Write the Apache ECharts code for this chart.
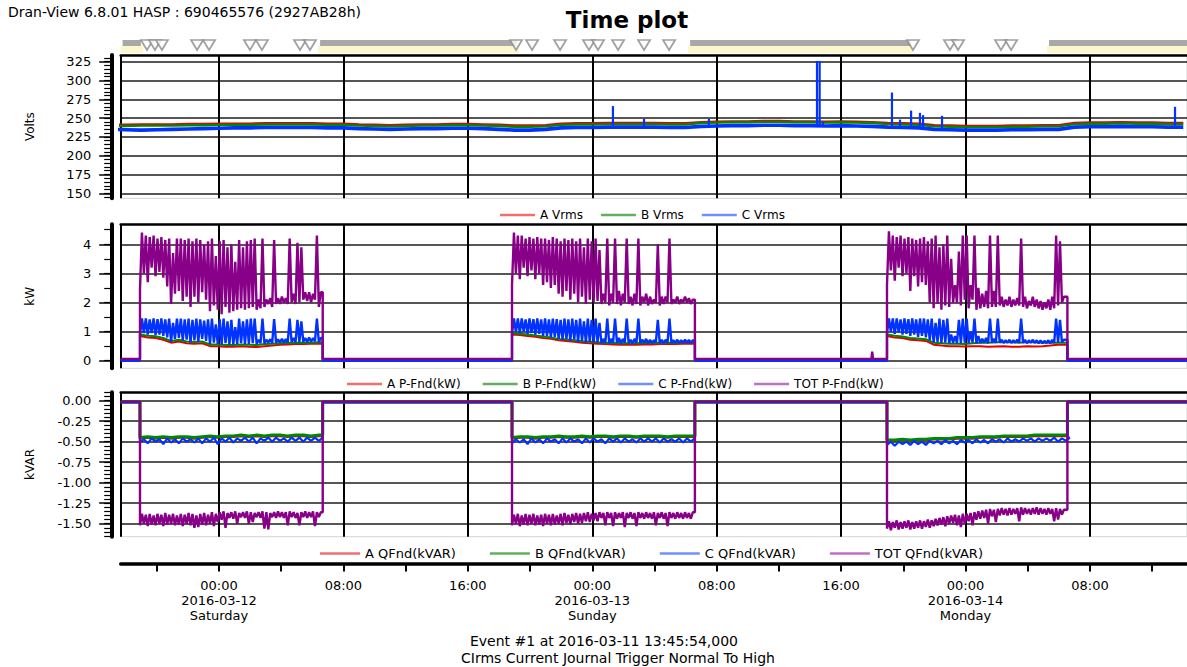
<!DOCTYPE html>
<html><head><meta charset="utf-8">
<script src="https://cdn.jsdelivr.net/npm/echarts@6/dist/echarts.min.js"></script>
<style>html,body{margin:0;padding:0;background:#fff}#c{width:1187px;height:667px}</style>
</head><body><div id="c"></div>
<script>
// ---- time: hours relative to 2016-03-12 00:00 ----
const xMin = -6.32, xMax = 62.24;
const gridHours = [0, 8, 16, 24, 32, 40, 48, 56];
const minorHours = [-4, 0, 4, 8, 12, 16, 20, 24, 28, 32, 36, 40, 44, 48, 52, 56, 60];
const timeLabels = ['00:00\n2016-03-12\nSaturday', '08:00', '16:00', '00:00\n2016-03-13\nSunday', '08:00', '16:00', '00:00\n2016-03-14\nMonday', '08:00'];

// ---- y ticks ----
const vTicks = [150, 175, 200, 225, 250, 275, 300, 325];
const pTicks = [0, 1, 2, 3, 4];
const qTicks = [0, -0.25, -0.5, -0.75, -1, -1.25, -1.5];

// ---- voltage (hourly samples from h=-7) ----
const vStart = -7;
const vA = [241,241,241.5,241.5,241.5,242,242, 242.5,242.5,242.5,243,243,243,243,242.5,242.5, 241.5,241,240.5,241, 241.5,241.5,242,242,241.5,241, 240,240,240.5, 242.5,243,243,243.5,243.5,243.5,243.5,243,243, 244.5,245,245.5,245.5,246,246,245.5,245.5,245,245.5,245,244.5, 243.5,243,242.5, 240.5,240,239.5,239.5,239.5,240,240,240.5,240.5, 243.5,244,244,244.5,244,244,243.5,243.5];
const vB = [239.5,239.5,240,240,240,240.5,240.5, 241,241,241,241.5,241.5,241.5,241.5,241,241, 240,239.5,239,239.5, 240,240,240.5,240.5,240,239.5, 238.5,238.5,239, 241,241.5,241.5,242,242,242,242,241.5,241.5, 243.5,244,244.5,244.5,245,245,244.5,244.5,244,244.5,244,243.5, 242,241.5,241, 239,238.5,238,238,238,238.5,238.5,239,239, 242,242.5,242.5,243,242.5,242.5,242,242];
const vC = [235,234.5,234,234.5,235,235.5,236, 236.5,237,237,237.5,237.5,237.5,237.5,237,237, 236,235.5,235,235.5, 236,236,236.5,236.5,236,235, 234,234,235, 237,237.5,237.5,238,238,238,238,237.5,237.5, 239,239.5,240,240,240.5,240.5,240,240,239.5,240,239.5,239, 238,237.5,237, 235,234.5,234,234,234,234.5,234.5,235,235, 238,238.5,238.5,239,238.5,238.5,238,238];
const vSpikeH    = [25.33, 27.33, 31.5, 38.45, 38.62, 38.84, 43.27, 43.79, 44.5, 45.07, 45.27, 46.49, 61.47];
const vSpikeBase = [238, 238, 238, 240, 240, 240, 238, 238, 238, 237, 237, 236, 238];
const vSpikePeak = [266, 249, 249, 326, 326, 245, 284, 248, 260, 257, 254, 253, 265];

// ---- load periods (P and Q), samples every 0.25 h (0.5 h for A/B/C Q and A/B P) ----
const onStart = [-5.08, 18.84, 42.95];
const onEnd   = [6.67, 30.6, 54.55];
const pOff = [0.03, 0.04, 0.0, 0.06];       // A, B, C, TOT
const qOff = [-0.015, -0.015, -0.02, -0.012];
const totOffSpike = [[41.95, 0.06], [42.0, 0.31], [42.05, 0.06]];

const totPHi1 = [4.40,4.30,4.25,4.30,4.20,4.25,4.15,4.20,3.70,4.20,4.20,4.15,4.20,4.10,4.20,4.15,4.00,4.10,4.20,3.60,4.10,4.15,3.90,4.00,3.40,4.15,3.90,4.10,4.15,4.20,2.10,4.20,2.10,2.15,4.15,2.15,2.20,2.15,4.20,2.30,4.05,3.90,2.35,2.35,2.30,4.30,2.35];
const totPLo1 = [2.45,3.00,2.70,3.20,2.90,3.05,2.85,2.55,1.95,2.30,2.40,2.05,2.20,1.85,2.20,2.00,2.35,2.10,1.70,1.90,1.75,1.60,1.85,1.65,1.70,1.75,1.80,1.75,1.80,1.85,1.75,1.80,1.85,1.95,1.85,1.95,1.95,2.00,1.95,2.00,1.95,2.00,2.10,2.05,2.00,2.10,1.85];
const totPHi2 = [4.40,4.30,4.30,4.20,4.25,4.20,4.25,4.20,4.20,4.15,4.25,4.20,4.10,4.20,4.15,4.20,4.10,4.20,3.90,4.20,4.10,4.20,3.80,2.30,4.20,2.30,4.20,2.40,2.30,4.20,2.20,2.30,4.20,2.20,2.30,2.20,2.10,4.00,2.20,2.20,4.20,2.10,2.20,2.10,2.20,2.15,2.10];
const totPLo2 = [2.60,3.00,2.80,3.20,2.90,3.10,2.80,3.00,2.60,2.70,2.50,2.60,2.30,2.20,2.40,2.10,2.30,2.00,2.20,1.95,2.10,2.00,2.05,1.95,2.00,1.90,2.00,1.95,1.90,2.00,1.95,1.90,1.95,1.90,2.00,1.90,1.95,2.00,1.90,1.95,2.00,1.95,2.00,1.95,2.00,2.00,1.95];
const totPHi3 = [4.45,4.30,4.25,4.30,4.20,4.25,4.20,4.15,4.20,4.25,4.10,4.20,4.30,3.90,4.00,4.30,3.50,2.60,3.75,4.30,4.30,2.60,4.30,2.50,2.30,2.40,4.30,2.40,4.30,2.20,2.10,2.20,2.10,2.15,4.20,2.20,2.05,2.20,2.10,2.05,2.00,2.10,2.20,4.30,4.10,2.20];
const totPLo3 = [2.60,3.10,2.75,3.20,2.90,3.00,2.40,2.90,2.55,2.70,2.60,2.00,1.80,1.95,1.75,1.90,1.85,2.00,2.00,1.90,2.10,1.80,2.10,1.75,1.80,1.85,1.80,1.85,1.85,1.90,1.85,1.90,1.85,1.90,1.90,1.85,1.80,1.90,1.85,1.80,1.75,1.80,1.75,1.80,1.90,2.00];

const cPHi1 = [1.45,1.45,1.42,1.45,1.43,1.45,1.42,1.45,1.30,1.45,1.45,1.42,1.45,1.40,1.45,1.42,1.38,1.42,1.45,1.25,1.42,1.45,1.35,1.40,1.15,1.45,1.35,1.42,1.45,1.45,0.72,1.45,0.72,0.74,1.43,0.73,0.75,0.74,1.45,0.78,1.40,1.35,0.78,0.80,0.78,1.45,0.78];
const cPLo1 = [0.90,0.95,0.90,0.95,0.88,0.90,0.85,0.80,0.65,0.75,0.78,0.70,0.72,0.62,0.70,0.65,0.75,0.68,0.58,0.62,0.58,0.55,0.60,0.55,0.56,0.57,0.60,0.58,0.58,0.60,0.58,0.60,0.60,0.62,0.60,0.62,0.63,0.62,0.63,0.64,0.63,0.64,0.65,0.64,0.65,0.66,0.64];
const cPHi2 = [1.45,1.45,1.45,1.42,1.45,1.43,1.45,1.42,1.45,1.42,1.45,1.43,1.40,1.45,1.42,1.45,1.40,1.45,1.35,1.45,1.40,1.45,1.30,0.75,1.45,0.75,1.45,0.78,0.75,1.45,0.72,0.75,1.45,0.72,0.75,0.72,0.70,1.40,0.72,0.72,1.45,0.70,0.72,0.70,0.72,0.71,0.70];
const cPLo2 = [0.95,0.98,0.95,1.00,0.92,0.95,0.90,0.92,0.85,0.85,0.80,0.82,0.75,0.72,0.75,0.68,0.72,0.65,0.68,0.62,0.65,0.62,0.63,0.60,0.62,0.60,0.62,0.61,0.60,0.62,0.61,0.60,0.61,0.60,0.62,0.60,0.61,0.62,0.60,0.61,0.62,0.61,0.62,0.61,0.62,0.62,0.61];
const cPHi3 = [1.45,1.45,1.45,1.42,1.45,1.43,1.45,1.42,1.45,1.45,1.42,1.45,1.30,1.45,1.40,1.45,0.90,0.85,1.40,1.45,1.45,1.00,1.45,0.85,0.75,0.78,1.45,0.75,1.45,0.72,0.70,0.72,0.70,0.72,1.45,0.72,0.70,0.72,0.70,0.70,0.68,0.70,0.72,1.45,1.40,0.72];
const cPLo3 = [0.95,1.00,0.92,0.98,0.90,0.92,0.85,0.90,0.82,0.85,0.80,0.70,0.62,0.65,0.60,0.62,0.60,0.62,0.60,0.60,0.62,0.60,0.62,0.60,0.61,0.62,0.60,0.62,0.61,0.62,0.61,0.62,0.61,0.62,0.62,0.61,0.60,0.62,0.61,0.60,0.60,0.61,0.60,0.61,0.62,0.63];

const aP1 = [0.85,0.80,0.78,0.72,0.62,0.66,0.60,0.58,0.60,0.50,0.50,0.48,0.48,0.50,0.48,0.47,0.50,0.52,0.55,0.56,0.57,0.57,0.58,0.58];
const bP1 = [0.90,0.86,0.84,0.78,0.68,0.72,0.66,0.64,0.66,0.56,0.56,0.54,0.54,0.56,0.55,0.54,0.57,0.58,0.60,0.61,0.62,0.62,0.62,0.63];
const aP2 = [0.90,0.88,0.85,0.82,0.78,0.75,0.70,0.68,0.65,0.62,0.60,0.58,0.57,0.56,0.55,0.55,0.55,0.56,0.56,0.57,0.57,0.57,0.58,0.58];
const bP2 = [0.95,0.93,0.90,0.87,0.83,0.80,0.75,0.73,0.70,0.67,0.65,0.63,0.62,0.61,0.60,0.60,0.60,0.61,0.61,0.62,0.62,0.62,0.63,0.63];
const aP3 = [0.85,0.80,0.78,0.72,0.70,0.68,0.55,0.52,0.50,0.50,0.49,0.50,0.50,0.48,0.49,0.50,0.48,0.48,0.50,0.49,0.50,0.52,0.55,0.55];
const bP3 = [0.90,0.86,0.83,0.78,0.76,0.74,0.62,0.60,0.58,0.58,0.57,0.60,0.62,0.62,0.63,0.64,0.63,0.62,0.64,0.63,0.62,0.62,0.62,0.62];

const totQHi1 = [-1.38,-1.39,-1.38,-1.40,-1.38,-1.39,-1.37,-1.39,-1.38,-1.40,-1.38,-1.39,-1.37,-1.38,-1.40,-1.38,-1.37,-1.39,-1.36,-1.38,-1.36,-1.35,-1.37,-1.36,-1.35,-1.37,-1.36,-1.35,-1.36,-1.37,-1.36,-1.35,-1.36,-1.37,-1.36,-1.35,-1.36,-1.36,-1.35,-1.36,-1.37,-1.36,-1.35,-1.36,-1.35,-1.36,-1.36];
const totQLo1 = [-1.52,-1.50,-1.53,-1.51,-1.52,-1.50,-1.53,-1.51,-1.50,-1.52,-1.51,-1.53,-1.50,-1.52,-1.55,-1.54,-1.51,-1.52,-1.50,-1.53,-1.48,-1.45,-1.55,-1.43,-1.44,-1.50,-1.42,-1.43,-1.50,-1.48,-1.42,-1.43,-1.56,-1.57,-1.42,-1.43,-1.42,-1.43,-1.52,-1.42,-1.43,-1.52,-1.42,-1.43,-1.42,-1.53,-1.42];
const totQHi2 = [-1.39,-1.38,-1.40,-1.38,-1.39,-1.38,-1.40,-1.39,-1.38,-1.39,-1.38,-1.40,-1.38,-1.37,-1.39,-1.38,-1.37,-1.38,-1.37,-1.36,-1.38,-1.37,-1.36,-1.37,-1.36,-1.37,-1.36,-1.37,-1.36,-1.37,-1.36,-1.37,-1.36,-1.37,-1.36,-1.37,-1.36,-1.37,-1.36,-1.37,-1.36,-1.37,-1.36,-1.37,-1.36,-1.37,-1.36];
const totQLo2 = [-1.52,-1.50,-1.53,-1.51,-1.52,-1.50,-1.52,-1.51,-1.53,-1.50,-1.52,-1.51,-1.50,-1.52,-1.49,-1.51,-1.48,-1.50,-1.49,-1.47,-1.48,-1.46,-1.47,-1.43,-1.52,-1.43,-1.53,-1.44,-1.43,-1.54,-1.43,-1.44,-1.53,-1.43,-1.44,-1.43,-1.44,-1.52,-1.43,-1.44,-1.53,-1.43,-1.44,-1.43,-1.44,-1.43,-1.44];
const totQHi3 = [-1.47,-1.48,-1.46,-1.48,-1.47,-1.46,-1.48,-1.47,-1.46,-1.47,-1.45,-1.46,-1.44,-1.43,-1.42,-1.41,-1.40,-1.39,-1.40,-1.38,-1.38,-1.37,-1.36,-1.35,-1.34,-1.33,-1.32,-1.33,-1.32,-1.31,-1.32,-1.31,-1.32,-1.31,-1.30,-1.31,-1.32,-1.31,-1.30,-1.31,-1.32,-1.31,-1.32,-1.31,-1.32,-1.33];
const totQLo3 = [-1.56,-1.58,-1.55,-1.57,-1.56,-1.55,-1.57,-1.56,-1.55,-1.56,-1.54,-1.55,-1.53,-1.52,-1.51,-1.53,-1.50,-1.49,-1.52,-1.54,-1.50,-1.47,-1.52,-1.45,-1.44,-1.43,-1.50,-1.41,-1.48,-1.40,-1.39,-1.40,-1.39,-1.38,-1.47,-1.39,-1.38,-1.39,-1.38,-1.39,-1.38,-1.39,-1.38,-1.47,-1.45,-1.39];

const qA1 = [-0.46,-0.45,-0.46,-0.45,-0.46,-0.45,-0.45,-0.46,-0.45,-0.44,-0.45,-0.44,-0.44,-0.43,-0.44,-0.43,-0.44,-0.43,-0.43,-0.44,-0.43,-0.43,-0.44,-0.43];
const qB1 = [-0.45,-0.44,-0.45,-0.44,-0.45,-0.44,-0.44,-0.45,-0.44,-0.43,-0.44,-0.43,-0.43,-0.42,-0.43,-0.42,-0.43,-0.42,-0.42,-0.43,-0.42,-0.42,-0.43,-0.42];
const qCHi1 = [-0.47,-0.46,-0.47,-0.46,-0.47,-0.46,-0.47,-0.46,-0.46,-0.45,-0.46,-0.45,-0.46,-0.45,-0.45,-0.46,-0.45,-0.45,-0.46,-0.45,-0.45,-0.45,-0.45,-0.45];
const qCLo1 = [-0.51,-0.52,-0.50,-0.53,-0.51,-0.52,-0.50,-0.51,-0.52,-0.50,-0.53,-0.50,-0.51,-0.49,-0.50,-0.52,-0.49,-0.50,-0.49,-0.50,-0.49,-0.50,-0.49,-0.49];
const qA2 = [-0.46,-0.45,-0.45,-0.46,-0.45,-0.45,-0.44,-0.45,-0.45,-0.44,-0.45,-0.44,-0.44,-0.45,-0.44,-0.44,-0.45,-0.44,-0.44,-0.44,-0.45,-0.44,-0.44,-0.44];
const qB2 = [-0.45,-0.44,-0.44,-0.45,-0.44,-0.44,-0.43,-0.44,-0.44,-0.43,-0.44,-0.43,-0.43,-0.44,-0.43,-0.43,-0.44,-0.43,-0.43,-0.43,-0.44,-0.43,-0.43,-0.43];
const qCHi2 = [-0.47,-0.47,-0.46,-0.47,-0.46,-0.47,-0.46,-0.46,-0.47,-0.46,-0.46,-0.47,-0.46,-0.46,-0.46,-0.47,-0.46,-0.46,-0.46,-0.46,-0.47,-0.46,-0.46,-0.46];
const qCLo2 = [-0.52,-0.51,-0.53,-0.51,-0.52,-0.50,-0.52,-0.51,-0.50,-0.52,-0.51,-0.50,-0.52,-0.50,-0.51,-0.50,-0.51,-0.50,-0.50,-0.51,-0.50,-0.50,-0.51,-0.50];
const qA3 = [-0.49,-0.49,-0.48,-0.49,-0.48,-0.48,-0.47,-0.47,-0.47,-0.46,-0.46,-0.46,-0.45,-0.45,-0.45,-0.44,-0.44,-0.44,-0.44,-0.43,-0.43,-0.43,-0.43,-0.43];
const qB3 = [-0.48,-0.48,-0.47,-0.48,-0.47,-0.47,-0.46,-0.46,-0.46,-0.45,-0.45,-0.45,-0.44,-0.44,-0.44,-0.43,-0.43,-0.43,-0.43,-0.42,-0.42,-0.42,-0.42,-0.42];
const qCHi3 = [-0.50,-0.50,-0.50,-0.49,-0.50,-0.49,-0.49,-0.48,-0.49,-0.48,-0.48,-0.47,-0.48,-0.47,-0.47,-0.46,-0.47,-0.46,-0.46,-0.46,-0.46,-0.45,-0.46,-0.45];
const qCLo3 = [-0.54,-0.55,-0.53,-0.54,-0.53,-0.54,-0.52,-0.53,-0.52,-0.53,-0.51,-0.52,-0.51,-0.52,-0.50,-0.51,-0.50,-0.50,-0.49,-0.50,-0.49,-0.49,-0.50,-0.49];

// ---- event markers strip ----
const evTri = [-4.63,-4.12,-3.67,-1.41,-0.64,1.99,2.76,5.21,5.85,19.1,20.13,21.93,23.79,24.37,25.66,27.33,28.94,44.62,47.0,47.52,50.28,50.93];
const evBandStart = [-6.2, 6.5, 30.29, 53.37];
const evBandEnd = [-5.02, 19.16, 44.5, 62.24];

// ---- helpers ----
const STEP = 0.25, STEP2 = 0.5;
function rng(a, b, s) { const o = []; for (let v = a; v <= b + 1e-9; v += s) o.push(Math.round(v * 1000) / 1000); return o; }
function zig(start, lo, hi, step) {
  const o = [];
  for (let i = 0; i < lo.length; i++) { o.push([start + i * step, lo[i]]); o.push([start + i * step + step / 2, hi[i]]); }
  return o;
}
function plain(start, vals, step) { return vals.map((v, i) => [start + i * step, v]); }
function assemble(off, segs, extra) {
  let o = [[xMin, off]];
  segs.forEach((s, k) => {
    o.push([onStart[k], off]); o.push(...s);
    o.push([onEnd[k], s[s.length - 1][1]]); o.push([onEnd[k], off]);
  });
  o.push([xMax, off]);
  if (extra) { o = o.concat(extra); o.sort((p, q) => p[0] - q[0]); }
  return o;
}

const FONT = "'DejaVu Sans', 'Liberation Sans', sans-serif";
const COL = { A: '#e00000', B: '#008800', C: '#0033ff', T: '#880088' };
const LCOL = { A: '#f07070', B: '#60b060', C: '#7090ff', T: '#c070c0' };

const LEFT = 120.7;
const grids = [
  { left: LEFT, right: 0, top: 55, height: 143.3 },
  { left: LEFT, right: 0, top: 224.3, height: 144 },
  { left: LEFT, right: 0, top: 392.3, height: 144.4 },
].map(g => Object.assign(g, { show: true, borderColor: '#d4d4d4', borderWidth: 1, backgroundColor: 'transparent', outerBoundsMode: 'none' }));
grids.push({ left: LEFT, right: 0, top: 561, height: 2.5, outerBoundsMode: 'none' });
grids.push({ left: LEFT, right: 0, top: 40, height: 10, outerBoundsMode: 'none' });

function panelX(gi) {
  return { type: 'value', gridIndex: gi, min: xMin, max: xMax, position: 'top',
    axisLine: { show: true, onZero: false, lineStyle: { color: '#000', width: 2.5 } },
    axisTick: { show: false, customValues: [xMin].concat(gridHours) },
    axisLabel: { show: false },
    splitLine: { show: true, lineStyle: { color: '#000', width: 2 } } };
}
function mainY(gi, min, max, ticks, fmt, name) {
  return { type: 'value', gridIndex: gi, min, max, position: 'left', offset: 8.5,
    name, nameLocation: 'middle', nameGap: 76, nameRotate: 90,
    nameTextStyle: { color: '#000', fontSize: 12, fontFamily: FONT },
    axisLine: { show: true, onZero: false, lineStyle: { color: '#000', width: 4, cap: 'round' } },
    axisTick: { show: true, length: 13, customValues: ticks, lineStyle: { color: '#000', width: 1.5 } },
    axisLabel: { show: true, customValues: ticks, formatter: fmt, margin: 21, color: '#000', fontSize: 13, fontFamily: FONT },
    splitLine: { show: true, lineStyle: { color: '#1e1e1e', width: 1.7 } } };
}
function minorY(gi, min, max, ticks) {
  return { type: 'value', gridIndex: gi, min, max, position: 'left', offset: 8.5,
    axisLine: { show: false, onZero: false },
    axisTick: { show: true, length: 8, customValues: ticks, lineStyle: { color: '#000', width: 1.2 } },
    axisLabel: { show: false }, splitLine: { show: false } };
}

const vMin = 143.36, vMax = 333.9, pMin = -0.261, pMax = 4.687, qMin = -1.6585, qMax = 0.102;

const xAxis = [panelX(0), panelX(1), panelX(2),
  { type: 'value', gridIndex: 3, min: xMin, max: xMax, position: 'bottom',
    axisLine: { show: true, onZero: false, lineStyle: { color: '#000', width: 3.5 } },
    axisTick: { show: true, length: 8, customValues: minorHours, lineStyle: { color: '#000', width: 2 } },
    axisLabel: { show: true, customValues: gridHours, margin: 15, color: '#000', fontSize: 13, lineHeight: 14.7, fontFamily: FONT,
      formatter: v => { const k = gridHours.indexOf(Math.round(v)); return k >= 0 ? timeLabels[k] : ''; } },
    splitLine: { show: false } },
  { type: 'value', gridIndex: 4, min: xMin, max: xMax, show: false }
];
const yAxis = [
  mainY(0, vMin, vMax, vTicks, v => String(Math.round(v)), 'Volts'), minorY(0, vMin, vMax, rng(145, 330, 5)),
  mainY(1, pMin, pMax, pTicks, v => String(Math.round(v)), 'kW'), minorY(1, pMin, pMax, rng(0, 4.5, 0.5)),
  mainY(2, qMin, qMax, qTicks, v => v.toFixed(2), 'kVAR'), minorY(2, qMin, qMax, rng(-1.65, 0.1, 0.05)),
  { type: 'value', gridIndex: 3, show: false, min: 0, max: 1 },
  { type: 'value', gridIndex: 4, show: false, min: 0, max: 1 }
];

function line(name, xi, yi, data, color, width) {
  return { name, type: 'line', xAxisIndex: xi, yAxisIndex: yi, data, symbol: 'none', silent: true,
    lineStyle: { color, width }, itemStyle: { color }, animation: false, z: 3 };
}

const series = [
  // Voltage
  line('A Vrms', 0, 0, plain(vStart, vA, 1), COL.A, 2.6),
  line('B Vrms', 0, 0, plain(vStart, vB, 1), COL.B, 2.4),
  line('C Vrms', 0, 0, plain(vStart, vC, 1), COL.C, 3.6),
  { name: 'C Vrms', type: 'custom', xAxisIndex: 0, yAxisIndex: 0, silent: true, animation: false, z: 4,
    data: vSpikeH.map((h, i) => [h, vSpikeBase[i], vSpikePeak[i]]), encode: { x: 0, y: [1, 2] },
    renderItem: (p, api) => { const a = api.coord([api.value(0), api.value(1)]); const b = api.coord([api.value(0), api.value(2)]);
      return { type: 'line', shape: { x1: a[0], y1: a[1], x2: b[0], y2: b[1] }, style: { stroke: COL.C, lineWidth: 2.2 } }; } },
  // Power
  line('A P-Fnd(kW)', 1, 2, assemble(pOff[0], [plain(onStart[0], aP1, STEP2), plain(onStart[1], aP2, STEP2), plain(onStart[2], aP3, STEP2)]), COL.A, 2),
  line('B P-Fnd(kW)', 1, 2, assemble(pOff[1], [plain(onStart[0], bP1, STEP2), plain(onStart[1], bP2, STEP2), plain(onStart[2], bP3, STEP2)]), COL.B, 2),
  line('C P-Fnd(kW)', 1, 2, assemble(pOff[2], [zig(onStart[0], cPLo1, cPHi1, STEP), zig(onStart[1], cPLo2, cPHi2, STEP), zig(onStart[2], cPLo3, cPHi3, STEP)]), COL.C, 2.4),
  line('TOT P-Fnd(kW)', 1, 2, assemble(pOff[3], [zig(onStart[0], totPLo1, totPHi1, STEP), zig(onStart[1], totPLo2, totPHi2, STEP), zig(onStart[2], totPLo3, totPHi3, STEP)], totOffSpike), COL.T, 2.4),
  // Reactive
  line('A QFnd(kVAR)', 2, 4, assemble(qOff[0], [plain(onStart[0], qA1, STEP2), plain(onStart[1], qA2, STEP2), plain(onStart[2], qA3, STEP2)]), COL.A, 2.5),
  line('B QFnd(kVAR)', 2, 4, assemble(qOff[1], [plain(onStart[0], qB1, STEP2), plain(onStart[1], qB2, STEP2), plain(onStart[2], qB3, STEP2)]), COL.B, 3),
  line('C QFnd(kVAR)', 2, 4, assemble(qOff[2], [zig(onStart[0], qCLo1, qCHi1, STEP2), zig(onStart[1], qCLo2, qCHi2, STEP2), zig(onStart[2], qCLo3, qCHi3, STEP2)]), COL.C, 2.2),
  line('TOT QFnd(kVAR)', 2, 4, assemble(qOff[3], [zig(onStart[0], totQLo1, totQHi1, STEP), zig(onStart[1], totQLo2, totQHi2, STEP), zig(onStart[2], totQLo3, totQHi3, STEP)]), COL.T, 2.4),
  // Event strip
  { type: 'custom', xAxisIndex: 4, yAxisIndex: 7, silent: true, animation: false, clip: false,
    data: evBandStart.map((s, i) => [s, evBandEnd[i]]), encode: { x: [0, 1] },
    renderItem: (p, api) => { const a = api.coord([api.value(0), 1]); const b = api.coord([api.value(1), 0.4]);
      return { type: 'group', children: [
        { type: 'rect', shape: { x: a[0] - 2, y: b[1], width: b[0] - a[0] + 4, height: 7 }, style: { fill: '#fcf6cc' } },
        { type: 'rect', shape: { x: a[0], y: a[1], width: b[0] - a[0], height: b[1] - a[1] }, style: { fill: '#a8a8a8' } } ] }; } },
  { type: 'scatter', xAxisIndex: 4, yAxisIndex: 7, silent: true, animation: false,
    data: evTri.map(h => [h, 0.5]), symbol: 'triangle', symbolRotate: 180, symbolSize: [12, 10],
    itemStyle: { color: '#ffffff', borderColor: '#8a8a8a', borderWidth: 1.8 }, z: 5 }
];

function legendItems(names, cols) { return names.map((n, i) => ({ name: n, itemStyle: { color: cols[i] } })); }
const legendBase = { icon: 'rect', itemWidth: 35, itemHeight: 2.5, itemGap: 18, selectedMode: false,
  textStyle: { color: '#000', fontSize: 12, fontFamily: FONT } };
const legend = [
  Object.assign({}, legendBase, { top: 204, left: 495, data: legendItems(['A Vrms', 'B Vrms', 'C Vrms'], [LCOL.A, LCOL.B, LCOL.C]) }),
  Object.assign({}, legendBase, { top: 373, left: 342, itemGap: 22, data: legendItems(['A P-Fnd(kW)', 'B P-Fnd(kW)', 'C P-Fnd(kW)', 'TOT P-Fnd(kW)'], [LCOL.A, LCOL.B, LCOL.C, LCOL.T]) }),
  Object.assign({}, legendBase, { top: 542, left: 315, itemWidth: 40, itemGap: 34, textStyle: { color: '#000', fontSize: 13, fontFamily: FONT },
    data: legendItems(['A QFnd(kVAR)', 'B QFnd(kVAR)', 'C QFnd(kVAR)', 'TOT QFnd(kVAR)'], [LCOL.A, LCOL.B, LCOL.C, LCOL.T]) })
];

const txt = (text, x, y, font, align) => ({ type: 'text', x, y, silent: true,
  style: { text, fill: '#000', font, align: align || 'center', verticalAlign: 'middle', textAlign: align || 'center', textVerticalAlign: 'middle' } });
const graphic = [
  txt('Dran-View 6.8.01 HASP : 690465576 (2927AB28h)', 8, 12, "14px " + FONT, 'left'),
  txt('Time plot', 627, 20, "bold 23px " + FONT),
  txt('Event #1 at 2016-03-11 13:45:54,000', 604, 641, "14px " + FONT),
  txt('CIrms Current Journal Trigger Normal To High', 618, 658, "14px " + FONT)
];

const chart = echarts.init(document.getElementById('c'), null, { renderer: 'svg', width: 1187, height: 667 });
chart.setOption({ animation: false, backgroundColor: '#fff', grid: grids, xAxis, yAxis, series, legend, graphic });
</script>
</body></html>
